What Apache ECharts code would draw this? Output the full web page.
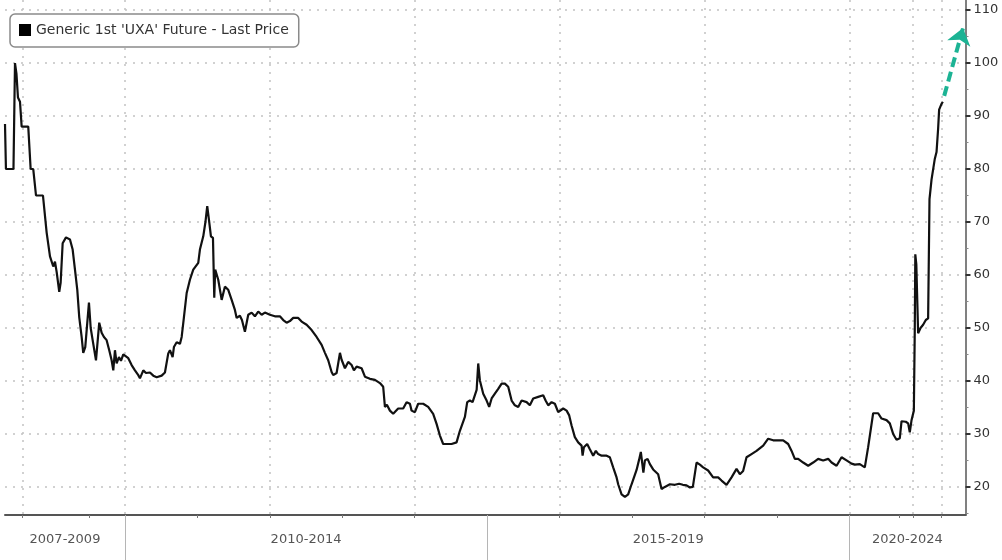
<!DOCTYPE html>
<html><head><meta charset="utf-8">
<script src="https://cdn.jsdelivr.net/npm/echarts@6/dist/echarts.min.js"></script>
<style>html,body{margin:0;padding:0;background:#fff}#c{width:1002px;height:560px}</style>
</head><body><div id="c"></div>
<script>
const seriesName = "Generic 1st 'UXA' Future - Last Price";
const dates = [2008.344,2008.357,2008.461,2008.482,2008.502,2008.523,2008.551,2008.574,2008.665,2008.698,2008.734,2008.772,2008.868,2008.919,2008.965,2009.010,2009.034,2009.057,2009.093,2009.112,2009.140,2009.186,2009.241,2009.278,2009.310,2009.342,2009.369,2009.402,2009.424,2009.452,2009.480,2009.503,2009.527,2009.554,2009.600,2009.623,2009.645,2009.678,2009.710,2009.747,2009.783,2009.816,2009.839,2009.862,2009.885,2009.917,2009.945,2009.977,2010.046,2010.092,2010.138,2010.184,2010.207,2010.253,2010.290,2010.345,2010.391,2010.438,2010.507,2010.552,2010.598,2010.621,2010.658,2010.676,2010.714,2010.759,2010.783,2010.814,2010.852,2010.897,2010.943,2011.012,2011.035,2011.081,2011.111,2011.136,2011.159,2011.187,2011.215,2011.233,2011.246,2011.288,2011.335,2011.380,2011.426,2011.473,2011.518,2011.542,2011.587,2011.615,2011.656,2011.702,2011.749,2011.794,2011.840,2011.887,2011.932,2012.001,2012.070,2012.139,2012.185,2012.232,2012.277,2012.323,2012.392,2012.439,2012.508,2012.577,2012.646,2012.715,2012.761,2012.806,2012.853,2012.875,2012.922,2012.968,2012.991,2013.037,2013.082,2013.129,2013.161,2013.198,2013.267,2013.313,2013.382,2013.451,2013.520,2013.565,2013.589,2013.616,2013.658,2013.703,2013.772,2013.841,2013.888,2013.934,2013.957,2014.003,2014.048,2014.117,2014.186,2014.255,2014.302,2014.348,2014.393,2014.440,2014.509,2014.578,2014.624,2014.693,2014.725,2014.762,2014.799,2014.855,2014.877,2014.900,2014.946,2014.993,2015.028,2015.062,2015.107,2015.153,2015.200,2015.245,2015.291,2015.338,2015.383,2015.429,2015.476,2015.545,2015.590,2015.636,2015.705,2015.774,2015.807,2015.843,2015.890,2015.935,2015.981,2016.050,2016.097,2016.133,2016.166,2016.211,2016.257,2016.304,2016.318,2016.336,2016.381,2016.418,2016.464,2016.501,2016.533,2016.580,2016.649,2016.694,2016.740,2016.787,2016.809,2016.856,2016.902,2016.947,2016.994,2017.063,2017.099,2017.122,2017.157,2017.178,2017.215,2017.247,2017.292,2017.361,2017.408,2017.454,2017.523,2017.592,2017.651,2017.702,2017.753,2017.799,2017.840,2017.891,2017.937,2017.982,2018.051,2018.120,2018.189,2018.236,2018.305,2018.374,2018.443,2018.489,2018.534,2018.581,2018.650,2018.719,2018.811,2018.880,2018.949,2019.018,2019.087,2019.156,2019.203,2019.248,2019.294,2019.363,2019.432,2019.501,2019.570,2019.639,2019.708,2019.755,2019.824,2019.893,2019.962,2020.031,2020.076,2020.145,2020.214,2020.260,2020.329,2020.398,2020.445,2020.514,2020.559,2020.605,2020.652,2020.697,2020.721,2020.780,2020.812,2020.835,2020.859,2020.891,2020.904,2020.911,2020.925,2020.950,2020.983,2021.019,2021.056,2021.088,2021.102,2021.107,2021.135,2021.180,2021.204,2021.226,2021.240,2021.273,2021.291];
const prices = [88.5,80,80,100,98,93.5,92.7,88,88,80,80,75,75,68,63.5,61.6,62.5,60.6,56.8,58.5,66,67.1,66.7,64.8,61,57.2,52,48.3,45.3,46.4,51,54.8,50,47.7,43.9,47.5,51,49.1,48.3,47.7,45.8,43.9,42,45.8,43.3,44.5,43.8,45,44.3,43,42,41.1,40.5,42,41.5,41.6,41,40.7,41,41.6,45.2,45.8,44.5,46.4,47.3,47,48.3,52,56.6,59.1,61,62.3,64.8,67.3,70,73,70.5,67.3,67,55.7,61,59.1,55.3,57.8,57.2,55.3,53.4,51.9,52.3,51.5,49.3,52.5,52.9,52.2,53.1,52.5,52.9,52.5,52.2,52.2,51.5,51,51.3,51.9,51.9,51.2,50.6,49.6,48.3,46.8,45.3,43.9,41.7,41.1,41.5,45.3,44,42.4,43.6,43,42,42.7,42.4,40.8,40.4,40.2,39.6,38.9,35.1,35.5,34.4,33.8,34.8,34.8,36,35.7,34.4,34.1,35.7,35.7,35.1,33.8,31.9,29.7,28.1,28.1,28.1,28.4,30.6,33.2,36,36.3,36,38.3,43.3,40.1,37.6,36.3,35.1,36.7,37.6,38.5,39.5,39.5,38.9,36.3,35.4,35.1,36.3,36,35.4,36.7,37,37.3,36.3,35.4,36,35.7,34.1,34.8,34.4,33.5,31.6,29.4,28.4,27.8,25.9,27.5,28.1,27.1,25.9,26.8,26.2,25.9,25.9,25.6,23.7,21.8,20.5,18.6,18.1,18.6,20.5,23.2,25.2,26.6,22.7,25,25.3,24.3,23.3,22.4,19.6,20,20.5,20.4,20.6,20.4,20.3,19.9,20,24.6,24.2,23.7,23.1,21.8,21.8,21.2,20.4,21.8,23.4,22.4,23,25.6,26.2,26.8,27.8,29.1,28.8,28.8,28.8,28.1,26.8,25.3,25.3,24.6,24,24.6,25.3,25,25.3,24.6,24,25.6,25,24.4,24.2,24.3,23.7,27.5,33.9,33.9,32.9,32.6,32,30,28.9,29.2,32.4,32.3,32,30.3,32.6,34.4,50,63.9,62,49,50,50.6,51.5,51.8,52,74.3,78,81.9,83.2,87.6,91.2,92.3,92.7];

const periodLabels = ['2007-2009', '2010-2014', '2015-2019', '2020-2024'];
const periodCenters = [2009.172, 2012.5, 2017.5, 2020.802];
const periodBounds = [2010, 2015, 2020];
const xGridTicks = [2008.588, 2010, 2012, 2014, 2016, 2018, 2020, 2020.881, 2021.273];
const xOtherTicks = [2009.507, 2011, 2013, 2015, 2017, 2019, 2020.688];
const xMin = 2008.344, xMax = 2021.604;
const yMin = 14.7, yMax = 111.9;
const yTicks = [20, 30, 40, 50, 60, 70, 80, 90, 100, 110];
const yMinorTicks = [15, 25, 35, 45, 55, 65, 75, 85, 95, 105];
const arrowFrom = [2021.310, 93.8];
const arrowTo = [2021.570, 106.6];

const FONT = 'DejaVu Sans';
const gridRect = { left: 5, right: 36.5, top: 0, bottom: 45 };
const dotted = { color: '#c2c2c2', width: 1.5, type: [2, 6] };

const chart = echarts.init(document.getElementById('c'), null, { renderer: 'canvas' });
chart.setOption({
  animation: false,
  backgroundColor: '#fff',
  legend: {
    data: [{ name: seriesName, icon: 'rect' }],
    left: 10, top: 14,
    padding: [9, 10, 10, 9],
    itemWidth: 12, itemHeight: 12,
    backgroundColor: '#fff',
    borderColor: '#8a8a8a', borderWidth: 1.5, borderRadius: 5,
    textStyle: { fontFamily: FONT, fontSize: 14, color: '#333' },
    itemStyle: { color: '#000' }
  },
  grid: [
    Object.assign({}, gridRect),
    Object.assign({}, gridRect),
    Object.assign({}, gridRect)
  ],
  xAxis: [
    {
      type: 'value', gridIndex: 0, min: xMin, max: xMax,
      axisLine: { show: true, lineStyle: { color: '#555', width: 2 } },
      axisTick: { show: true, customValues: xGridTicks, length: 3, lineStyle: { color: '#777', width: 1 } },
      axisLabel: { show: false },
      splitLine: { show: true, lineStyle: dotted }
    },
    {
      type: 'value', gridIndex: 1, min: xMin, max: xMax,
      axisLine: { show: false },
      axisTick: { show: true, customValues: xOtherTicks, length: 3, lineStyle: { color: '#777', width: 1 } },
      axisLabel: { show: false },
      splitLine: { show: false }
    },
    {
      type: 'value', gridIndex: 2, min: xMin, max: xMax,
      axisLine: { show: false },
      axisTick: { show: true, customValues: periodBounds, length: 46, lineStyle: { color: '#b5b5b5', width: 1 } },
      axisLabel: {
        show: true, customValues: periodCenters, margin: 18,
        fontFamily: FONT, fontSize: 13, color: '#555',
        formatter: function (v) {
          let best = 0;
          for (let i = 1; i < periodCenters.length; i++) {
            if (Math.abs(periodCenters[i] - v) < Math.abs(periodCenters[best] - v)) best = i;
          }
          return periodLabels[best];
        }
      },
      splitLine: { show: false }
    }
  ],
  yAxis: [
    {
      type: 'value', gridIndex: 0, position: 'right', min: yMin, max: yMax,
      axisLine: { show: true, lineStyle: { color: '#808080', width: 2 } },
      axisTick: { show: true, customValues: yTicks, length: 5, lineStyle: { color: '#333', width: 2 } },
      axisLabel: { show: true, customValues: yTicks, margin: 8, fontFamily: FONT, fontSize: 13, color: '#333' },
      splitLine: { show: true, lineStyle: dotted }
    },
    {
      type: 'value', gridIndex: 1, position: 'right', min: yMin, max: yMax,
      axisLine: { show: false },
      axisTick: { show: true, customValues: yMinorTicks, length: 3, lineStyle: { color: '#888', width: 1 } },
      axisLabel: { show: false },
      splitLine: { show: false }
    },
    {
      type: 'value', gridIndex: 2, position: 'right', min: yMin, max: yMax,
      show: false
    }
  ],
  series: [
    {
      name: seriesName,
      type: 'line',
      xAxisIndex: 0, yAxisIndex: 0,
      data: dates.map((d, i) => [d, prices[i]]),
      showSymbol: false,
      symbol: 'none',
      color: '#111',
      lineStyle: { color: '#111', width: 2.2 },
      z: 5,
      markLine: {
        silent: true,
        animation: false,
        symbol: ['none', 'arrow'],
        symbolSize: [18, 16],
        label: { show: false },
        lineStyle: { color: '#1cb394', width: 4, type: [10, 5] },
        emphasis: { disabled: true },
        data: [[{ coord: arrowFrom }, { coord: arrowTo }]]
      }
    }
  ]
});
</script>
</body></html>
